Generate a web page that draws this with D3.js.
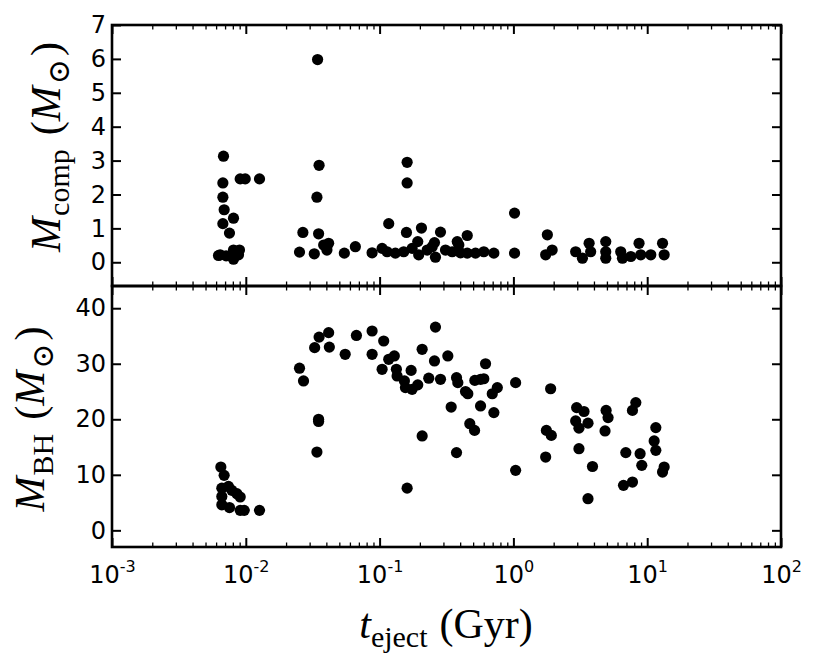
<!DOCTYPE html>
<html><head><meta charset="utf-8">
<script src="https://cdn.jsdelivr.net/npm/d3@7"></script>
<style>body{margin:0;background:#fff}</style>
</head><body>
<svg id="c" width="830" height="653"></svg>
<script>
// ---- data ----
const topT = [0.00681,0.00674,0.00674,0.00689,0.00674,0.00755,0.00809,0.00643,0.00713,0.00809,0.00809,0.00897,0.00882,0.00625,0.00908,0.0099,0.01266,
  0.0344,0.0353,0.0340,0.0267,0.0252,0.0325,0.0350,0.0382,0.0416,0.0404,0.0545,0.0659,0.0879,
  0.1044,0.1138,0.1170,0.1312,0.1514,0.1587,0.1606,0.1606,0.1750,0.1928,0.1960,0.2055,0.2268,0.2472,0.2571,0.2615,0.2852,0.3108,0.3488,0.3804,0.3909,0.4025,0.4518,0.4518,0.521,0.601,0.7145,
  1.02,1.02,
  1.794,1.948,1.742,2.92,3.28,3.68,3.78,4.90,4.90,4.90,6.53,6.34,7.54,8.69,8.95,10.64,13.02,13.39];
const topM = [3.13,2.34,1.92,1.55,1.14,0.86,1.30,0.22,0.19,0.09,0.36,0.36,0.22,0.20,2.46,2.46,2.46,
  5.98,2.86,1.92,0.88,0.30,0.25,0.84,0.51,0.56,0.36,0.27,0.46,0.28,
  0.41,0.31,1.14,0.27,0.31,0.88,2.95,2.34,0.41,0.61,0.22,1.01,0.36,0.46,0.58,0.15,0.89,0.36,0.31,0.61,0.51,0.28,0.79,0.27,0.27,0.31,0.27,
  1.45,0.27,
  0.81,0.36,0.22,0.31,0.12,0.56,0.31,0.61,0.31,0.12,0.12,0.31,0.17,0.56,0.22,0.22,0.56,0.22];

const botT = [0.00651,0.00689,0.00662,0.00742,0.00787,0.00858,0.00908,0.00662,0.00662,0.00755,0.00908,0.00973,0.01266,
  0.0252,0.0270,0.0327,0.0353,0.0416,0.0421,0.0350,0.0350,0.0340,0.0553,0.0671,0.0879,0.1073,0.0879,0.1044,0.1170,0.1288,0.1335,0.1351,0.1533,0.1560,0.1750,0.1720,0.1928,
  0.2615,0.2080,0.2571,0.3235,0.2330,0.2852,0.3758,0.3843,0.4388,0.4564,0.515,0.5683,0.601,0.619,0.695,0.758,0.3428,0.5683,0.7145,0.4722,0.5124,0.2080,0.3758,0.1606,
  1.039,1.039,
  1.898,1.764,1.920,1.742,2.97,3.37,2.92,3.09,3.61,3.09,3.90,3.61,4.93,5.10,4.84,8.22,7.76,6.92,8.85,9.11,6.65,7.76,11.60,11.27,11.60,13.39,13.02];
const botM = [11.4,9.9,7.6,7.9,7.2,6.6,6.0,6.1,4.6,4.1,3.6,3.6,3.6,
  29.2,26.9,32.9,34.8,35.6,33.0,20.0,19.6,14.1,31.7,35.1,35.9,34.1,31.7,29.0,30.8,31.4,29.0,27.8,26.9,25.7,25.4,28.8,26.2,
  36.6,32.6,30.5,31.4,27.4,27.2,27.5,26.6,25.0,24.6,27.0,27.2,27.3,30.0,24.6,25.7,22.2,22.4,21.2,19.2,18.0,17.0,14.0,7.6,
  26.6,10.8,
  25.5,18.0,17.1,13.2,22.1,21.4,19.7,18.4,19.3,14.7,11.5,5.7,21.6,20.3,17.9,23.0,21.6,14.0,13.8,11.7,8.1,8.7,18.5,16.1,14.4,11.4,10.5];

const xMajor = [1e-3,1e-2,1e-1,1e0,1e1,1e2];
const xExp = ["-3","-2","-1","0","1","2"];
const yTopTicks = [0,1,2,3,4,5,6,7];
const yBotTicks = [0,10,20,30,40];

// ---- drawing ----
const svg = d3.select("#c");
const L=112, R=781, T=25, MID=286, B=547;
const x = d3.scaleLog().domain([1e-3,1e2]).range([L,R]);
const yTop = d3.scaleLinear().domain([-0.7,7]).range([MID,T]);
const yBot = d3.scaleLinear().domain([-3,44]).range([B,MID]);

const xMinor = [];
for (let e=-3;e<2;e++) for (let k=2;k<10;k++) xMinor.push(k*Math.pow(10,e));

function styleAxis(g, w){
  g.select(".domain").remove();
  g.selectAll(".tick line").attr("stroke","#000").attr("stroke-width",w);
}

function panel(y0, y1, yScale, yTicks, tData, mData, showX){
  svg.append("g").selectAll("circle").data(tData.map((t,i)=>[t,mData[i]])).join("circle")
    .attr("cx",d=>x(d[0])).attr("cy",d=>yScale(d[1])).attr("r",5.6).attr("fill","#000");
  const gb = svg.append("g").attr("transform",`translate(0,${y1})`)
    .call(d3.axisBottom(x).tickValues(xMinor).tickSize(-4.5).tickFormat(""));
  styleAxis(gb,1.3);
  const gt = svg.append("g").attr("transform",`translate(0,${y0})`)
    .call(d3.axisTop(x).tickValues(xMinor).tickSize(-4.5).tickFormat(""));
  styleAxis(gt,1.3);
  const gbM = svg.append("g").attr("transform",`translate(0,${y1})`)
    .call(d3.axisBottom(x).tickValues(xMajor).tickSize(-9).tickFormat(""));
  styleAxis(gbM,2);
  const gtM = svg.append("g").attr("transform",`translate(0,${y0})`)
    .call(d3.axisTop(x).tickValues(xMajor).tickSize(-9).tickFormat(""));
  styleAxis(gtM,2);
  if (showX){
    gbM.selectAll(".tick text").each(function(d,i){
      const t = d3.select(this).attr("font-family","DejaVu Sans").attr("font-size",24)
        .attr("fill","#000").attr("dy","0").attr("y",36).attr("text-anchor","middle");
      t.append("tspan").text("10");
      t.append("tspan").attr("font-size",16).attr("dy",-11).text(xExp[i]);
    });
  }
  const gl = svg.append("g").attr("transform",`translate(${L},0)`)
    .call(d3.axisLeft(yScale).tickValues(yTicks).tickSize(-9).tickPadding(6));
  styleAxis(gl,2);
  gl.selectAll(".tick text").attr("font-family","DejaVu Sans").attr("font-size",24).attr("fill","#000");
  const gr = svg.append("g").attr("transform",`translate(${R},0)`)
    .call(d3.axisRight(yScale).tickValues(yTicks).tickSize(-9).tickFormat(""));
  styleAxis(gr,2);
  svg.append("rect").attr("x",L).attr("y",y0).attr("width",R-L).attr("height",y1-y0)
    .attr("fill","none").attr("stroke","#000").attr("stroke-width",2.6);
}

panel(T, MID, yTop, yTopTicks, topT, topM, false);
panel(MID, B, yBot, yBotTicks, botT, botM, true);

// labels
function yLabel(xb, yc, sub){
  const t = svg.append("text").attr("transform",`translate(${xb},${yc}) rotate(-90)`)
    .attr("text-anchor","middle").attr("font-family","Liberation Serif").attr("font-size",42).attr("fill","#000");
  t.append("tspan").attr("font-style","italic").text("M");
  t.append("tspan").attr("font-size",30).attr("dy",9).attr("dx",1).text(sub);
  t.append("tspan").attr("dy",-9).attr("dx",14).text("(");
  t.append("tspan").attr("font-style","italic").text("M");
  t.append("tspan").attr("font-size",30).attr("dy",9).attr("dx",2).attr("font-family","DejaVu Serif").text("\u2299");
  t.append("tspan").attr("dy",-9).attr("dx",3).text(")");
}
yLabel(60, 147, "comp");
yLabel(44, 419, "BH");

const xl = svg.append("text").attr("x",446).attr("y",638).attr("text-anchor","middle")
  .attr("font-family","Liberation Serif").attr("font-size",42).attr("fill","#000");
xl.append("tspan").attr("font-style","italic").text("t");
xl.append("tspan").attr("font-size",30).attr("dy",9).text("eject");
xl.append("tspan").attr("dy",-9).attr("dx",12).text("(Gyr)");
</script>
</body></html>
